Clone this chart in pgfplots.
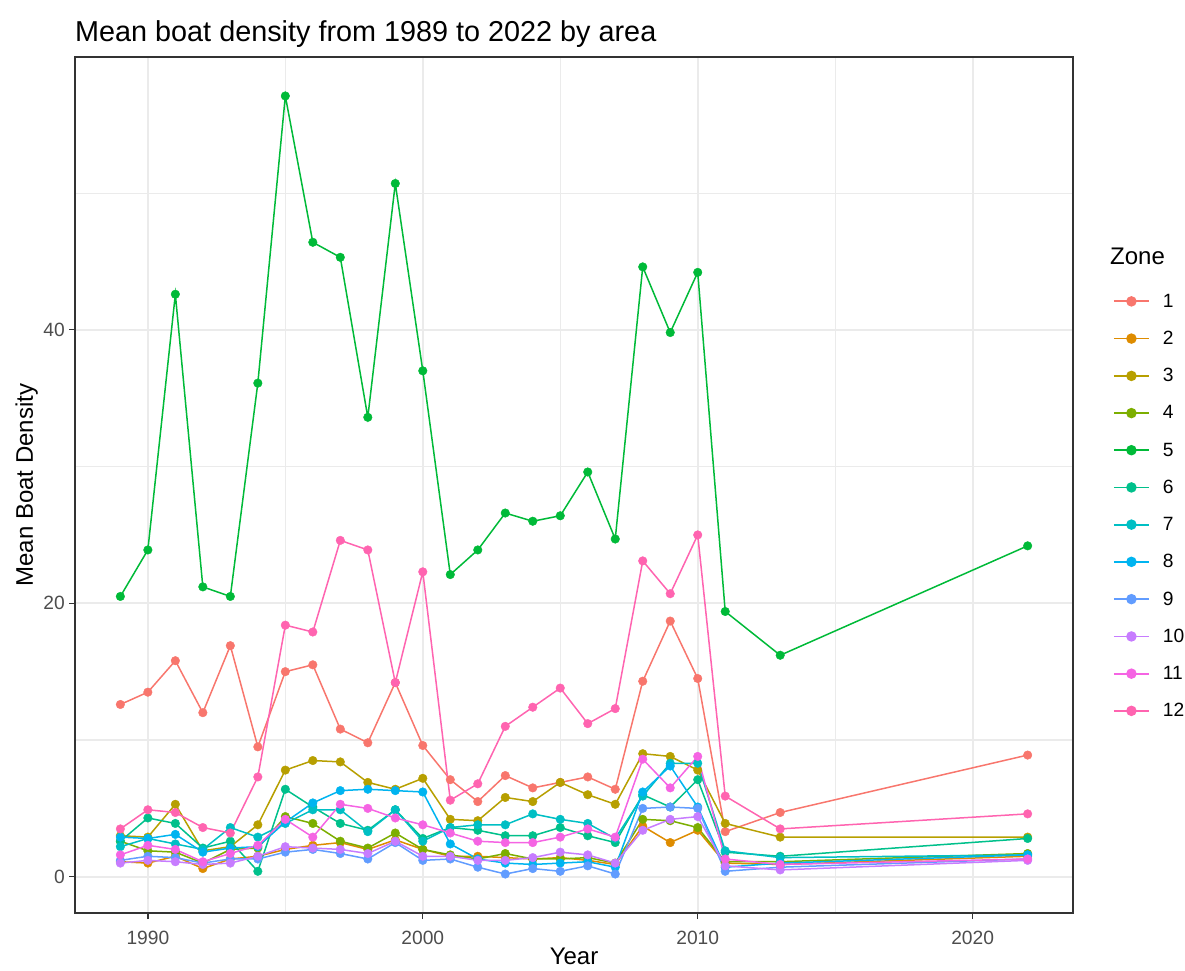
\documentclass[border=0pt]{standalone}
\usepackage{pgfplots}
\pgfplotsset{compat=1.18}
\usepackage{pgfplotstable}
\usepackage{fontspec}
\setmainfont{Liberation Sans}

\definecolor{c1}{HTML}{F8766D}
\definecolor{c2}{HTML}{DE8C00}
\definecolor{c3}{HTML}{B79F00}
\definecolor{c4}{HTML}{7CAE00}
\definecolor{c5}{HTML}{00BA38}
\definecolor{c6}{HTML}{00C08B}
\definecolor{c7}{HTML}{00BFC4}
\definecolor{c8}{HTML}{00B4F0}
\definecolor{c9}{HTML}{619CFF}
\definecolor{c10}{HTML}{C77CFF}
\definecolor{c11}{HTML}{F564E3}
\definecolor{c12}{HTML}{FF64B0}
\definecolor{gridc}{HTML}{EBEBEB}
\definecolor{g20}{HTML}{333333}
\definecolor{g30}{HTML}{4D4D4D}

\pgfplotstableread{
year z1 z2 z3 z4 z5 z6 z7 z8 z9 z10 z11 z12
1989 12.6 1.1 3.0 2.6 20.5 2.6 2.2 2.9 1.2 1.0 1.6 3.5
1990 13.5 1.0 2.9 1.9 23.9 4.3 2.8 2.8 1.5 1.2 2.3 4.9
1991 15.8 1.5 5.3 1.8 42.6 3.9 2.4 3.1 1.4 1.1 2.0 4.7
1992 12.0 0.6 1.9 1.0 21.2 2.1 2.0 1.8 1.0 0.9 1.1 3.6
1993 16.9 1.3 2.2 2.0 20.5 2.6 3.6 2.1 1.3 1.0 1.7 3.2
1994 9.5 1.5 3.8 2.1 36.1 0.4 2.9 2.2 1.3 1.5 2.3 7.3
1995 15.0 2.0 7.8 4.4 57.1 6.4 3.9 4.0 1.8 2.2 4.2 18.4
1996 15.5 2.3 8.5 3.9 46.4 5.1 4.9 5.4 2.0 2.1 2.9 17.9
1997 10.8 2.5 8.4 2.6 45.3 3.9 4.9 6.3 1.7 2.0 5.3 24.6
1998 9.8 2.0 6.9 2.1 33.6 3.4 3.3 6.4 1.3 1.7 5.0 23.9
1999 14.2 2.7 6.4 3.2 50.7 4.9 4.9 6.3 2.5 2.6 4.3 14.2
2000 9.6 2.0 7.2 2.0 37.0 2.8 2.6 6.2 1.2 1.5 3.8 22.3
2001 7.1 1.5 4.2 1.6 22.1 3.6 3.6 2.4 1.3 1.5 3.2 5.6
2002 5.5 1.5 4.1 1.3 23.9 3.4 3.8 1.3 0.7 1.2 2.6 6.8
2003 7.4 1.4 5.8 1.7 26.6 3.0 3.8 1.0 0.2 1.2 2.5 11.0
2004 6.5 1.3 5.5 1.3 26.0 3.0 4.6 0.9 0.6 1.4 2.5 12.4
2005 6.9 1.4 6.9 1.3 26.4 3.6 4.2 1.0 0.4 1.8 2.9 13.8
2006 7.3 1.2 6.0 1.4 29.6 3.0 3.9 1.1 0.8 1.6 3.5 11.2
2007 6.4 0.9 5.3 1.0 24.7 2.5 2.8 0.7 0.2 1.0 2.9 12.3
2008 14.3 3.7 9.0 4.2 44.6 6.0 5.9 6.2 5.0 3.4 8.6 23.1
2009 18.7 2.5 8.8 4.1 39.8 5.1 8.3 8.1 5.1 4.2 6.5 20.7
2010 14.5 3.4 7.8 3.6 44.2 7.1 8.3 5.1 5.0 4.4 8.8 25.0
2011 3.3 1.0 3.9 1.1 19.4 1.8 1.9 0.7 0.4 0.8 1.3 5.9
2013 4.7 0.9 2.9 1.1 16.2 1.5 1.4 1.0 0.7 0.5 0.9 3.5
2022 8.9 1.5 2.9 1.7 24.2 2.8 1.6 1.6 1.3 1.2 1.3 4.6
}\data

\begin{document}
\begin{tikzpicture}
\useasboundingbox (-75pt,-57pt) rectangle (1110pt,913pt);
\begin{axis}[
  at={(0pt,0pt)}, anchor=south west,
  scale only axis, width=998pt, height=856pt,
  xmin=1987.35, xmax=2023.65, ymin=-2.65, ymax=59.95,
  clip mode=individual,
  xtick={1990,2000,2010,2020}, ytick={0,20,40},
  minor xtick={1995,2005,2015}, minor ytick={10,30,50},
  grid=both,
  major grid style={gridc, line width=2.2pt},
  minor grid style={gridc, line width=1.1pt},
  axis line style={g20, line width=1.5pt},
  tick align=outside, major tick length=6pt, minor tick length=0pt,
  tick pos=left,
  major tick style={g20, line width=1.4pt},
  minor tick style={draw=none},
  /pgf/number format/assume math mode=true,
  /pgf/number format/1000 sep={},
  ticklabel style={font=\fontsize{19.2}{23}\selectfont, color=g30},
  xticklabel style={anchor=north, inner sep=0pt, yshift=-12pt},
  yticklabel style={anchor=east, inner sep=0pt, xshift=-4pt},
  xlabel={Year},
  xlabel style={at={(axis description cs:0.5,0)}, anchor=base, inner sep=0pt, yshift=-51pt, font=\fontsize{24}{28}\selectfont},
  title={Mean boat density from 1989 to 2022 by area},
  title style={at={(axis description cs:0,1)}, anchor=base west, inner sep=0pt, yshift=9pt, font=\fontsize{28.8}{33}\selectfont},
  legend image code/.code={%
    \draw[#1, mark=none] (0pt,0pt) -- (35pt,0pt);
    \draw[#1, only marks] plot coordinates {(17.5pt,0pt)};},
  legend cell align=left,
  legend style={at={(axis description cs:1.0401,0.7231)}, anchor=north west,
    draw=none, fill=none, inner sep=0pt, outer sep=0pt,
    row sep=22.4pt, column sep=13pt,
    nodes={inner sep=0pt, anchor=west},
    font=\fontsize{19.2}{23}\selectfont},
]
\pgfplotsinvokeforeach{1,...,12}{
  \addplot[c#1, line width=1.5pt, forget plot] table[x=year, y=z#1] {\data};
}
\pgfplotsinvokeforeach{1,...,12}{
  \addplot[c#1, only marks, mark=*, mark size=4.3pt, forget plot] table[x=year, y=z#1] {\data};
}
\pgfplotsinvokeforeach{1,...,12}{
  \addlegendimage{c#1, line width=1.8pt, mark=*, mark size=4.3pt}
  \addlegendentry{#1}
}
\node[anchor=base west, inner sep=0pt, font=\fontsize{24}{28}\selectfont] at (axis description cs:1.0371,0.758) {Zone};
\node[rotate=90, anchor=base, inner sep=0pt, font=\fontsize{24}{28}\selectfont] at (axis description cs:-0.0421,0.5) {Mean Boat Density};
\end{axis}
\end{tikzpicture}
\end{document}
